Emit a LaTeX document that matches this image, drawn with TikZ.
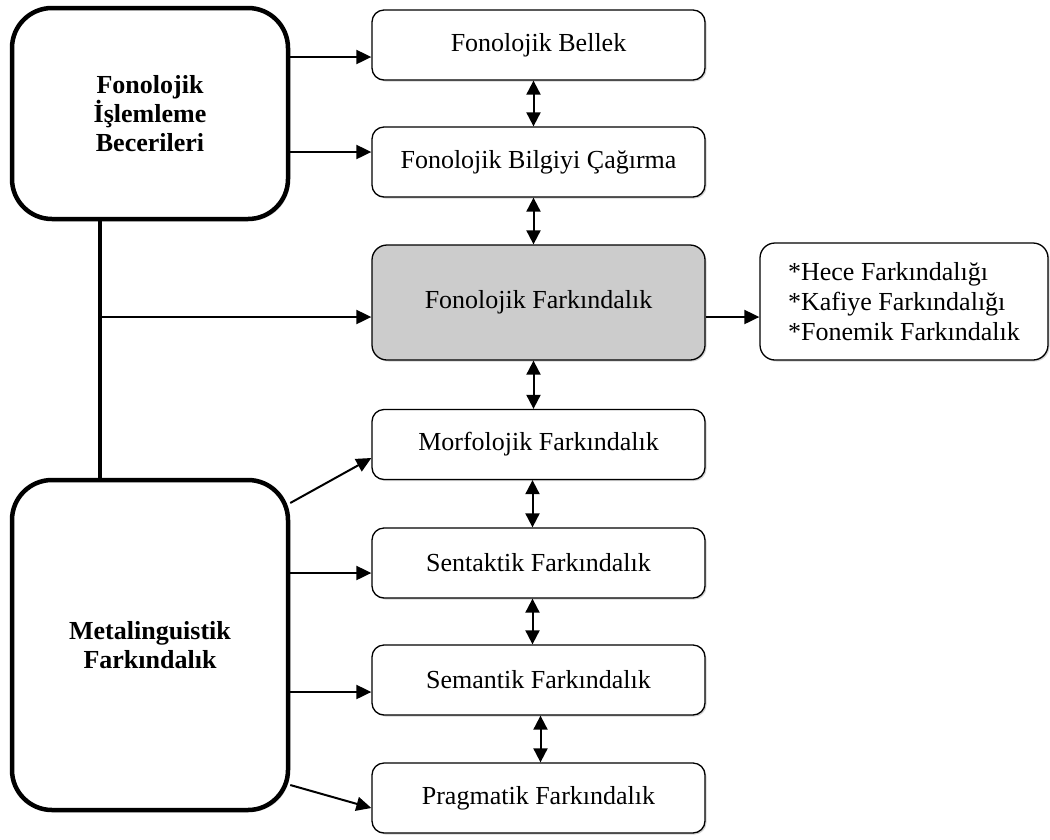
\documentclass[tikz,border=0pt]{standalone}
\usepackage{fontspec}
\setmainfont{Liberation Serif}
\usetikzlibrary{arrows.meta,shadows}
\begin{document}
\begin{tikzpicture}[x=1pt,y=-1pt,style=thick]
\tikzstyle{main}=[draw, line width=4.5pt, rounded corners=40pt, fill=white, minimum width=276pt, align=center, font=\fontsize{26}{29}\selectfont\bfseries, drop shadow={shadow xshift=2pt, shadow yshift=-2pt, opacity=0.3}]
\tikzstyle{level}=[draw, line width=1.3pt, rounded corners=12pt, fill=white, minimum width=333pt, minimum height=70pt, font=\fontsize{26}{30}\selectfont, drop shadow={shadow xshift=1.5pt, shadow yshift=-1.5pt, opacity=0.35}]
\tikzstyle{link}=[line width=2pt, -{Triangle[length=15pt,width=14pt]}]
\tikzstyle{both}=[line width=2pt, {Triangle[length=14pt,width=14pt]}-{Triangle[length=14pt,width=14pt]}]
\tikzstyle{bar}=[line width=3.5pt]

\useasboundingbox (0,0) rectangle (1050,839);

\node[main, minimum height=211pt] (FIB) at (150,113.5) {Fonolojik\\İşlemleme\\Becerileri};
\node[main, minimum height=330pt] (MF) at (150,645) {Metalinguistik\\Farkındalık};

\node[level] (FB) at (538.5,45) {Fonolojik Bellek};
\node[level] (FBC) at (538.5,162) {Fonolojik Bilgiyi Çağırma};
\node[level, fill=gray!40, rounded corners=15pt, minimum height=115pt] (FF) at (538.5,302.5) {Fonolojik Farkındalık};
\node[level] (MorF) at (538.5,444.5) {Morfolojik Farkındalık};
\node[level] (SF) at (538.5,563) {Sentaktik Farkındalık};
\node[level] (SemF) at (538.5,680) {Semantik Farkındalık};
\node[level] (PF) at (538.5,798) {Pragmatik Farkındalık};
\node[level, rounded corners=15pt, minimum width=288pt, minimum height=117pt, align=left] (HF) at (904,301.5) {*Hece Farkındalığı\\*Kafiye Farkındalığı\\*Fonemik Farkındalık};

\coordinate (FBin) at ([yshift=-12pt]FB.west);
\coordinate (FBCin) at ([yshift=10pt]FBC.west);
\coordinate (FFin) at ([yshift=-14.5pt]FF.west);
\coordinate (MorFin) at ([yshift=-13.5pt]MorF.west);
\coordinate (SFin) at ([yshift=-10pt]SF.west);
\coordinate (SemFin) at ([yshift=-12pt]SemF.west);
\coordinate (PFin) at ([yshift=-10pt]PF.west);
\coordinate (top) at ([xshift=-50pt]FIB.south);
\coordinate (bottom) at ([xshift=-50pt]MF.north);

\draw[bar] (top) -- (bottom);
\draw[link] (FIB.east |- FBin) -- (FBin);
\draw[link] (FIB.east |- FBCin) -- (FBCin);
\draw[link] (top |- FFin) -- (FFin);
\draw[link] (FF.east |- FFin) -- (HF.west |- FFin);
\draw[link] ([yshift=142pt]MF.east) -- (MorFin);
\draw[link] (MF.east |- SFin) -- (SFin);
\draw[link] (MF.east |- SemFin) -- (SemFin);
\draw[link] ([yshift=-140pt]MF.east) -- (PFin);

\draw[both] ([xshift=-5pt]FB.south) -- ([xshift=-5pt]FBC.north);
\draw[both] ([xshift=-5pt]FBC.south) -- ([xshift=-5pt]FF.north);
\draw[both] ([xshift=-5pt]FF.south) -- ([xshift=-5pt]MorF.north);
\draw[both] ([xshift=-6pt]MorF.south) -- ([xshift=-6pt]SF.north);
\draw[both] ([xshift=-6pt]SF.south) -- ([xshift=-6pt]SemF.north);
\draw[both] ([xshift=2pt]SemF.south) -- ([xshift=2pt]PF.north);

\end{tikzpicture}
\end{document}
